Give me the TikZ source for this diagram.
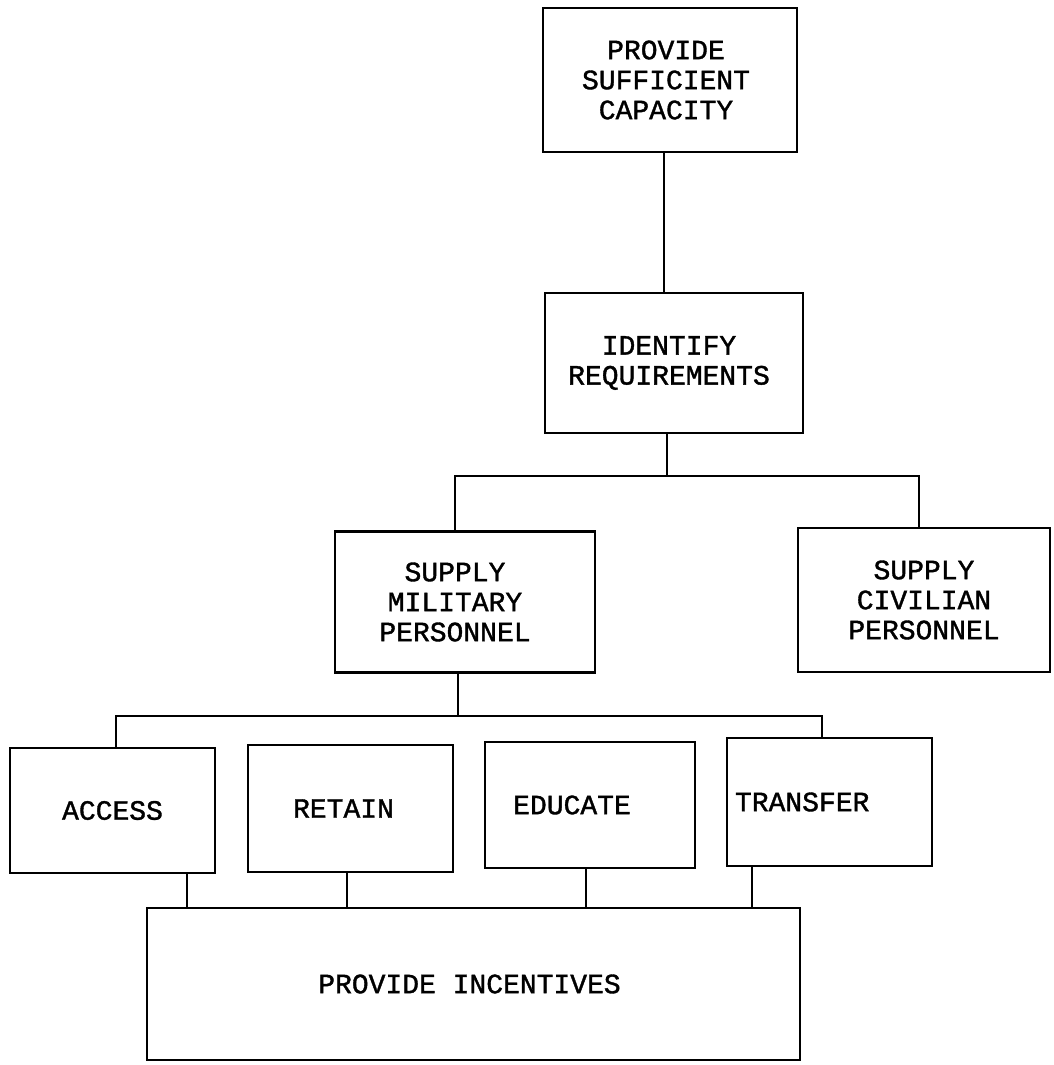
\documentclass[tikz,border=0pt]{standalone}
\usepackage{fontspec}
\newfontfamily\tw[FakeBold=1.3]{Liberation Mono}
\newcommand\boxfont{\fontsize{28}{30}\selectfont\tw}
\tikzset{
  box/.style={draw, line width=2.8pt, rectangle, align=center, font=\boxfont, inner sep=0pt},
  link/.style={line width=2.6pt},
}
\begin{document}
\begin{tikzpicture}[x=1pt, y=-1pt]
\useasboundingbox[fill=white] (0,0) rectangle (1054,1065);

% boxes
\node[box, minimum width=254pt, minimum height=144pt] (B1) at (670,80) {\hspace*{-8pt}PROVIDE\\\hspace*{-8pt}SUFFICIENT\\\hspace*{-8pt}CAPACITY};
\node[box, minimum width=258pt, minimum height=140pt] (B2) at (674,363) {\hspace*{-10pt}IDENTIFY\\\hspace*{-10pt}REQUIREMENTS};
\node[box, minimum width=260pt, minimum height=141pt] (SMP) at (465,602) {\hspace*{-20pt}SUPPLY\\\hspace*{-20pt}MILITARY\\\hspace*{-20pt}PERSONNEL};
\node[box, minimum width=252pt, minimum height=144pt] (SCP) at (924,600) {SUPPLY\\CIVILIAN\\PERSONNEL};
\node[box, minimum width=205pt, minimum height=125pt] (ACC) at (112.5,810.5) {ACCESS};
\node[box, minimum width=205pt, minimum height=127pt] (RET) at (350.5,808.5) {\hspace*{-14pt}RETAIN};
\node[box, minimum width=210pt, minimum height=126pt] (EDU) at (590,805) {\hspace*{-36pt}EDUCATE};
\node[box, minimum height=128pt, text width=189pt, inner xsep=8pt, align=left] (TRA) at (829.5,802) {TRANSFER};
\node[box, minimum width=653pt, minimum height=152pt] (INC) at (473.5,984) {\hspace*{-8pt}PROVIDE INCENTIVES};

% junction points
\coordinate (J1) at (667,476);
\coordinate (h1l) at (455,476);
\coordinate (h1r) at (919,476);
\coordinate (J2) at (458,716);
\coordinate (h2l) at (116,716);
\coordinate (h2r) at (822,716);
\coordinate (c1) at (187,0);
\coordinate (c2) at (347,0);
\coordinate (c3) at (586,0);
\coordinate (c4) at (752,0);
\coordinate (c0) at (664,0);

% connectors
\draw[link] (B1.south -| c0) -- (B2.north -| c0);
\draw[link] (B2.south -| J1) -- (J1);
\draw[link] (SMP.north -| h1l) -- (h1l) -- (h1r) -- (SCP.north -| h1r);
\draw[link] (SMP.south -| J2) -- (J2);
\draw[link] (ACC.north -| h2l) -- (h2l) -- (h2r) -- (TRA.north -| h2r);
\draw[link] (ACC.south -| c1) -- (INC.north -| c1);
\draw[link] (RET.south -| c2) -- (INC.north -| c2);
\draw[link] (EDU.south -| c3) -- (INC.north -| c3);
\draw[link] (TRA.south -| c4) -- (INC.north -| c4);
\end{tikzpicture}
\end{document}
